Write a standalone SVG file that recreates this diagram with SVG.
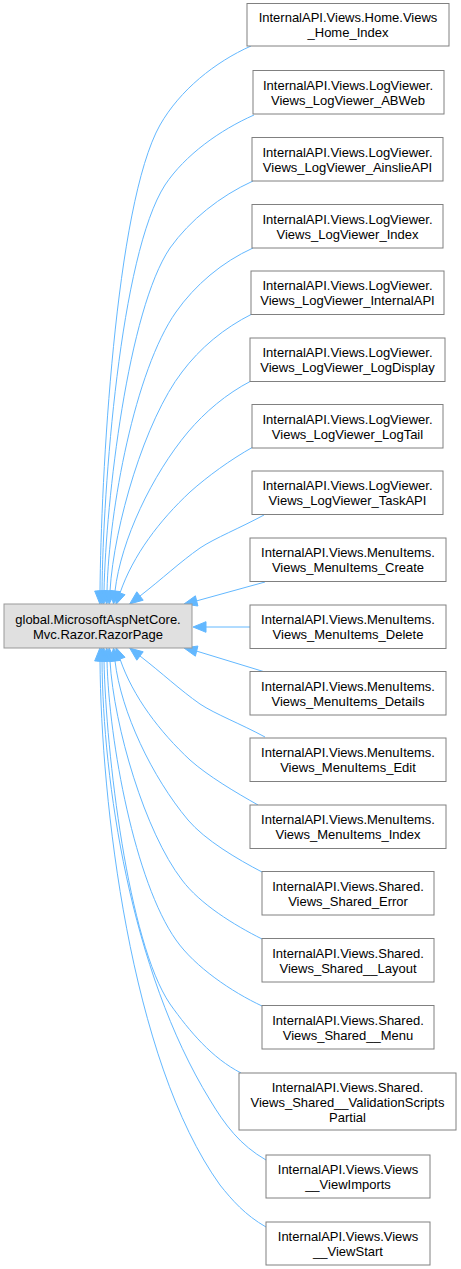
<svg xmlns="http://www.w3.org/2000/svg" width="461" height="1269" viewBox="0 0 461 1269">
<style>
.n rect{fill:#ffffff;stroke:#808080;stroke-width:1}
.m rect{fill:#e0e0e0;stroke:#999999;stroke-width:1}
text{font-family:"Liberation Sans",Arial,sans-serif;font-size:13px;fill:#000;text-anchor:middle}
.e path{fill:none;stroke:#63b8ff;stroke-width:1}
.e polygon{fill:#63b8ff;stroke:#63b8ff;stroke-width:1}
</style>
<rect width="461" height="1269" fill="#ffffff"/>
<g class="e" id="edges">
<path d="M251,46 C215,62 180,90 160,125 C115,205 101,480 100,591"/>
<polygon points="94.7,591 99.9,604 105.3,591"/>
<path d="M254,115 C220,130 185,155 165,185 C120,255 103,490 102,591"/>
<polygon points="96.7,591 101.9,604 107.3,591"/>
<path d="M253,181 C220,196 190,220 170,248 C128,310 106,500 104,591"/>
<polygon points="98.7,590.9 103.7,604 109.3,591.1"/>
<path d="M253,248 C222,262 195,285 176,312 C135,370 109,510 107,591"/>
<polygon points="101.7,590.9 106.7,604 112.3,591.1"/>
<path d="M252,314 C224,328 200,348 182,372 C145,420 114,525 110,591"/>
<polygon points="104.7,590.7 109.2,604 115.3,591.3"/>
<path d="M251,381 C226,394 205,412 188,432 C152,475 121,540 115,591"/>
<polygon points="109.7,590.4 113.5,603.9 120.3,591.6"/>
<path d="M253,447 C230,460 208,476 190,492 C160,520 133,555 120,593"/>
<polygon points="115,591.3 116.1,604.3 125,594.7"/>
<path d="M264,515 C240,528 215,538 200,548 C180,562 162,579 140,596"/>
<polygon points="136.8,591.8 129.7,603.9 143.2,600.2"/>
<path d="M265,582 L196.6,600.9"/>
<polygon points="195.4,595.8 184,604 197.9,606"/>
<path d="M250,627 L206,627"/>
<polygon points="206,621.7 193,627 206,632.3"/>
<path d="M265,672 L196.6,651.1"/>
<polygon points="197.9,646 184,648 195.4,656.2"/>
<path d="M265,737 C241,724 215,714 200,704 C180,690 162,673 140,656"/>
<polygon points="143.2,651.8 129.7,648.1 136.8,660.2"/>
<path d="M258,805 C235,792 208,776 190,760 C160,732 133,697 120,659"/>
<polygon points="125,657.3 116.1,647.7 115,660.7"/>
<path d="M262,872 C237,859 205,840 188,820 C152,777 121,712 115,661"/>
<polygon points="120.3,660.4 113.5,648.1 109.7,661.6"/>
<path d="M262,939 C234,925 200,904 182,880 C145,832 114,727 110,661"/>
<polygon points="115.3,660.7 109.2,648 104.7,661.3"/>
<path d="M262,1006 C232,992 195,967 176,940 C135,882 109,742 107,661"/>
<polygon points="112.3,660.9 106.7,648 101.7,661.1"/>
<path d="M241,1073 C212,1058 190,1032 170,1004 C128,942 106,752 104,661"/>
<polygon points="109.3,660.9 103.7,648 98.7,661.1"/>
<path d="M266,1160 C240,1145 225,1125 210,1100 C130,970 103,780 102,661"/>
<polygon points="107.3,661 101.9,648 96.7,661"/>
<path d="M266,1227 C245,1215 232,1200 220,1185 C130,1060 101,800 100,661"/>
<polygon points="105.3,661 99.9,648 94.7,661"/>
</g>
<g id="main" class="m"><rect x="4" y="604" width="188" height="44"/><text x="98" y="623.5">global.MicrosoftAspNetCore.</text><text x="98" y="638.5">Mvc.Razor.RazorPage</text></g>
<g id="n1" class="n"><rect x="247" y="3.5" width="202" height="42.5"/><text x="348" y="22.3">InternalAPI.Views.Home.Views</text><text x="348" y="37.3">_Home_Index</text></g>
<g id="n2" class="n"><rect x="253" y="70.5" width="191" height="43.5"/><text x="348" y="89.8">InternalAPI.Views.LogViewer.</text><text x="348" y="104.8">Views_LogViewer_ABWeb</text></g>
<g id="n3" class="n"><rect x="252" y="137.5" width="191" height="43.5"/><text x="347.5" y="156.8">InternalAPI.Views.LogViewer.</text><text x="347.5" y="171.8">Views_LogViewer_AinslieAPI</text></g>
<g id="n4" class="n"><rect x="252" y="204.5" width="191" height="43.5"/><text x="347.5" y="223.8">InternalAPI.Views.LogViewer.</text><text x="347.5" y="238.8">Views_LogViewer_Index</text></g>
<g id="n5" class="n"><rect x="251" y="271" width="193" height="43.5"/><text x="347.5" y="290.3">InternalAPI.Views.LogViewer.</text><text x="347.5" y="305.3">Views_LogViewer_InternalAPI</text></g>
<g id="n6" class="n"><rect x="250" y="338" width="195" height="43.5"/><text x="347.5" y="357.3">InternalAPI.Views.LogViewer.</text><text x="347.5" y="372.3">Views_LogViewer_LogDisplay</text></g>
<g id="n7" class="n"><rect x="252" y="404.5" width="191" height="43.5"/><text x="347.5" y="423.8">InternalAPI.Views.LogViewer.</text><text x="347.5" y="438.8">Views_LogViewer_LogTail</text></g>
<g id="n8" class="n"><rect x="252" y="471" width="191" height="43.5"/><text x="347.5" y="490.3">InternalAPI.Views.LogViewer.</text><text x="347.5" y="505.3">Views_LogViewer_TaskAPI</text></g>
<g id="n9" class="n"><rect x="250" y="538" width="196" height="43.5"/><text x="348" y="557.3">InternalAPI.Views.MenuItems.</text><text x="348" y="572.3">Views_MenuItems_Create</text></g>
<g id="n10" class="n"><rect x="250" y="605" width="196" height="43.5"/><text x="348" y="624.3">InternalAPI.Views.MenuItems.</text><text x="348" y="639.3">Views_MenuItems_Delete</text></g>
<g id="n11" class="n"><rect x="250" y="671.5" width="196" height="43.5"/><text x="348" y="690.8">InternalAPI.Views.MenuItems.</text><text x="348" y="705.8">Views_MenuItems_Details</text></g>
<g id="n12" class="n"><rect x="250" y="738" width="196" height="43.5"/><text x="348" y="757.3">InternalAPI.Views.MenuItems.</text><text x="348" y="772.3">Views_MenuItems_Edit</text></g>
<g id="n13" class="n"><rect x="250" y="805" width="196" height="43.5"/><text x="348" y="824.3">InternalAPI.Views.MenuItems.</text><text x="348" y="839.3">Views_MenuItems_Index</text></g>
<g id="n14" class="n"><rect x="262" y="871.5" width="172" height="43.5"/><text x="348" y="890.8">InternalAPI.Views.Shared.</text><text x="348" y="905.8">Views_Shared_Error</text></g>
<g id="n15" class="n"><rect x="262" y="938.5" width="172" height="43.5"/><text x="348" y="957.8">InternalAPI.Views.Shared.</text><text x="348" y="972.8">Views_Shared__Layout</text></g>
<g id="n16" class="n"><rect x="262" y="1005.5" width="172" height="43.5"/><text x="348" y="1024.8">InternalAPI.Views.Shared.</text><text x="348" y="1039.8">Views_Shared__Menu</text></g>
<g id="n17" class="n"><rect x="239" y="1073" width="217" height="57"/><text x="347.5" y="1091.5">InternalAPI.Views.Shared.</text><text x="347.5" y="1106.5">Views_Shared__ValidationScripts</text><text x="347.5" y="1121.5">Partial</text></g>
<g id="n18" class="n"><rect x="266" y="1155" width="164" height="43"/><text x="348" y="1174">InternalAPI.Views.Views</text><text x="348" y="1189">__ViewImports</text></g>
<g id="n19" class="n"><rect x="266" y="1222" width="164" height="43"/><text x="348" y="1241">InternalAPI.Views.Views</text><text x="348" y="1256">__ViewStart</text></g>
</svg>
